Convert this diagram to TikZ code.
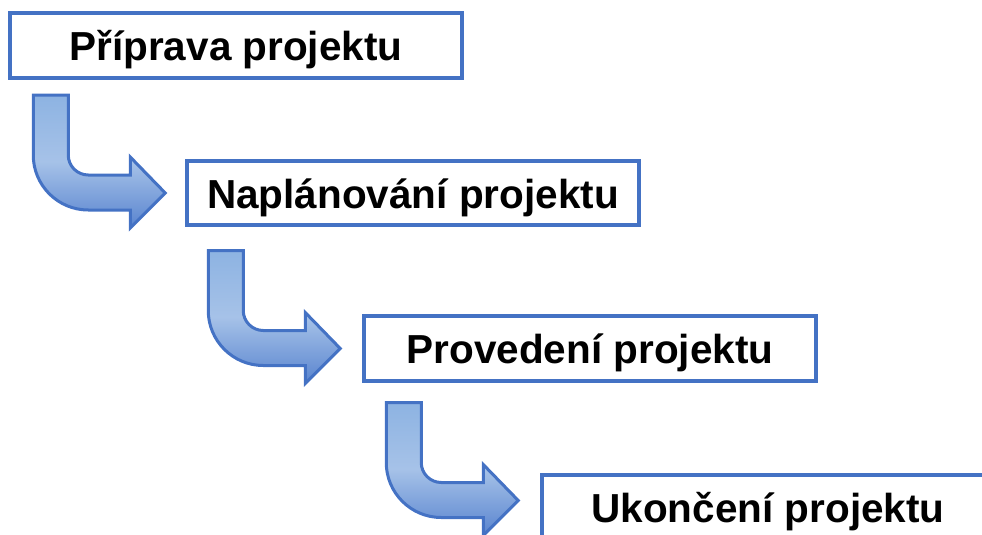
\documentclass[tikz,border=0pt]{standalone}
\usepackage{fontspec}
\setmainfont{Liberation Sans}
\definecolor{boxblue}{HTML}{4472C4}
\definecolor{arrowtop}{HTML}{8DB3E2}
\definecolor{arrowmid}{HTML}{A6C2E8}
\definecolor{arrowbot}{HTML}{5984CF}

\begin{document}
\begin{tikzpicture}[x=1pt,y=1pt,
                    stage/.style={draw=boxblue,line width=3.5pt,fill=white,
                      minimum width=452pt,minimum height=65pt,inner sep=0pt,
                      text height=30pt,text depth=0pt,
                      font=\fontsize{40.5}{48}\selectfont\bfseries},
                    bentarrow/.pic={
                      \draw[boxblue,line width=3pt,top color=arrowtop,
                            bottom color=arrowbot,middle color=arrowmid]
                        (-132,98) -- (-97,98) -- (-97,38)
                        arc[start angle=180,end angle=270,radius=20]
                        -- (-35,18) -- (-35,36) -- (0,0) -- (-35,-35) -- (-35,-17)
                        -- (-77,-17) arc[start angle=270,end angle=180,radius=55]
                        -- cycle;
                    }]

  \useasboundingbox (0,0) rectangle (982,-535);
  \clip (0,0) rectangle (982,-535);

  \node[stage]                     (B1) at (236,-45.5)  {Příprava projektu};
  \node[stage,minimum height=64pt] (B2) at (413,-193)   {Naplánování projektu};
  \node[stage]                     (B3) at (590,-348.5) {Provedení projektu};
  \node[stage]                     (B4) at (768,-507.5) {Ukončení projektu};

  % bent arrows between the stages
  \pic at ([xshift=-20pt]B2.west)          {bentarrow};
  \pic at ([xshift=-22pt]B3.west)          {bentarrow};
  \pic at ([shift={(-22pt,7pt)}]B4.west)   {bentarrow};
\end{tikzpicture}
\end{document}
